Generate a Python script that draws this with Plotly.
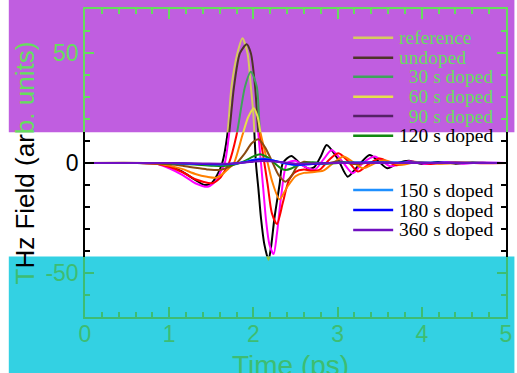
import plotly.graph_objects as go

# ---------------- data ----------------
t_ref = [0, 0.6, 0.85, 1.0, 1.15, 1.3, 1.42, 1.5, 1.57, 1.63, 1.69, 1.74, 1.81, 1.87, 1.93, 1.97, 2.0, 2.03, 2.06, 2.09, 2.13,
         2.18, 2.21, 2.25, 2.31, 2.35, 2.45, 2.55, 2.65, 2.72, 2.8, 2.87, 3.0, 3.12, 3.25, 3.38, 3.48, 3.59, 3.72, 3.85, 4.0,
         4.2, 4.4, 4.6, 4.8, 5.0]
v_ref = [0, 0, -0.3, -1.3, -3.8, -7.5, -10, -9.3, -5.5, 0, 12.7, 34.7, 49.9, 56.7, 49.9, 34.7, 22, 0, -12, -25, -37,
         -44, -38, -25, -10, 0, 3.2, 0, -2.5, -2, 3, 8.2, 2, -6.2, -1, 3.6, 1, -2.4, 0, 1, -0.5,
         0.5, -0.3, 0.2, 0, 0]

t_und = [0, 0.6, 0.85, 1.0, 1.16, 1.31, 1.46, 1.565, 1.61, 1.66, 1.71, 1.77, 1.84, 1.92, 1.97, 2.02, 2.06, 2.09, 2.12,
         2.15, 2.19, 2.24, 2.28, 2.33, 2.40, 2.5, 2.6, 2.73, 2.83, 2.93, 3.05, 3.18, 3.3, 3.44, 3.63, 3.85, 4.05, 4.3,
         4.5, 4.7, 5.0]
v_und = [0, 0, -0.3, -2.4, -5.5, -9.2, -10.8, -7.7, -4, 0, 12.7, 34.7, 49.9, 54, 49.9, 34.7, 12.7, 0, -13,
         -26, -37, -41.4, -32, -15, 0, 1, -1.5, -3, 1.5, 5.9, 1, -4.7, 0, 2.9, -1.5, 0.8, -0.5, 0.4,
         -0.3, 0.2, 0]

t_30 = [0, 0.6, 0.85, 1.0, 1.16, 1.31, 1.51, 1.6, 1.66, 1.71, 1.80, 1.90, 1.97, 2.04, 2.08, 2.13, 2.17, 2.22, 2.28,
        2.35, 2.42, 2.5, 2.6, 2.7, 2.79, 2.9, 3.01, 3.12, 3.24, 3.37, 3.5, 3.7, 3.9, 4.1, 4.4, 4.7, 5.0]
v_30 = [0, 0, -0.3, -1.7, -4.2, -7.4, -9.2, -7, -3.5, 0, 12.7, 34.7, 41.5, 34.7, 12.7, 0, -10, -22.9, -27.7,
        -18, -8, -4, -3, -3.5, -3, 1.5, 4.4, 1, -3.9, -0.5, 2, -1, 0.6, -0.4, 0.3, -0.1, 0]

t_60 = [0, 0.6, 0.85, 1.0, 1.16, 1.31, 1.45, 1.56, 1.65, 1.72, 1.77, 1.87, 1.94, 2.006, 2.05, 2.09, 2.17, 2.22, 2.31,
        2.4, 2.5, 2.6, 2.7, 2.83, 2.95, 3.07, 3.18, 3.3, 3.45, 3.55, 3.75, 3.95, 4.2, 4.5, 5.0]
v_60 = [0, 0, -0.2, -1.2, -2.8, -5, -6.3, -6.7, -4.5, -2, 0, 12.7, 21, 24.9, 21, 12.7, 0, -8, -16.5,
        -11, -6, -4.5, -4.2, -3.5, 0, 2.9, 0.5, -2.4, 0, 1.2, -0.8, 0.5, -0.3, 0.1, 0]

t_90 = [0, 0.7, 1.0, 1.16, 1.31, 1.45, 1.6, 1.7, 1.8, 1.9, 1.98, 2.06, 2.14, 2.23, 2.30, 2.38, 2.45, 2.52, 2.6,
        2.7, 2.85, 3.0, 3.2, 3.4, 3.7, 5.0]
v_90 = [0, 0, -0.6, -1.3, -2.2, -2.9, -3.2, -2, 0, 4.5, 9, 10.8, 7, 0, -5.5, -8.5, -6, -1.5, 0.6,
        0, -0.5, 0.8, -0.5, 0.3, 0, 0]

t_120 = [0, 0.8, 1.1, 1.3, 1.5, 1.65, 1.8, 1.9, 2.0, 2.08, 2.16, 2.25, 2.32, 2.38, 2.45, 2.55, 2.7, 2.9, 3.1, 3.4, 5.0]
v_120 = [0, 0, -0.3, -0.7, -1.2, -1.4, -0.5, 1, 3, 4, 2.8, 0, -2.2, -3.2, -2.5, -0.5, 0.3, -0.2, 0.2, 0, 0]

t_150 = [0, 1.0, 1.4, 1.7, 1.9, 2.0, 2.1, 2.2, 2.35, 2.5, 2.7, 3.0, 5.0]
v_150 = [0, 0, -0.5, -0.6, 0.5, 1.5, 2.0, 1.5, 0, -1.0, -0.5, 0.1, 0]

t_180 = [0, 1.0, 1.4, 1.7, 1.9, 2.0, 2.13, 2.2, 2.35, 2.5, 2.7, 3.0, 5.0]
v_180 = [0, 0, -0.4, -0.5, 0.3, 1.2, 1.7, 1.4, 0.2, -0.8, -0.4, 0.1, 0]

t_360 = [0, 1.0, 1.4, 1.7, 1.9, 2.0, 2.1, 2.2, 2.35, 2.5, 2.7, 3.0, 5.0]
v_360 = [0, 0, -0.2, -0.3, 0.2, 0.6, 0.9, 0.8, 0.3, -0.3, -0.2, 0, 0]

series_names = ["reference", "undoped", "\u00a0\u00a030 s doped", "\u00a0\u00a060 s doped", "\u00a0\u00a090 s doped",
                "120 s doped", "150 s doped", "180 s doped", "360 s doped"]
series_t = [t_ref, t_und, t_30, t_60, t_90, t_120, t_150, t_180, t_360]
series_v = [v_ref, v_und, v_30, v_60, v_90, v_120, v_150, v_180, v_360]

y_ticks_major = [-50, 0, 50]
x_ticks = [0, 1, 2, 3, 4, 5]

# ---------------- styles ----------------
Y_MIN, Y_MAX = -70, 70
TOP_CUT, BOT_CUT = 14, -42.5

col_mid = ["#000000", "#ff00ff", "#ff0000", "#ff8000", "#8b4a10", "#118811", "#1e90ff", "#0000ff", "#7010c0"]
col_top = ["#d6cb5e", "#4e3428", "#3fa35a", "#e6e04a", "#552266", "#1a6a1a", "#1e90ff", "#0000ff", "#7010c0"]
col_bot = ["#8cc43e", "#ff00ff", "#ff0000", "#ff8000", "#8b4a10", "#118811", "#1e90ff", "#0000ff", "#7010c0"]

PURPLE = "#c05ee0"
CYAN = "#33d1e3"
GREEN_P = "#66dd5e"   # green on purple band
GREEN_C = "#3dbd72"   # green on cyan band
SANS = "Liberation Sans, Arial, sans-serif"
SERIF = "Liberation Serif, Times New Roman, serif"

d_bot = (BOT_CUT - Y_MIN) / (Y_MAX - Y_MIN)
d_top = (TOP_CUT - Y_MIN) / (Y_MAX - Y_MIN)

fig = go.Figure()
for axis_id, cols in (("y", col_mid), ("y2", col_top), ("y3", col_bot)):
    for t, v, c in zip(series_t, series_v, cols):
        fig.add_trace(go.Scatter(x=t, y=v, mode="lines", xaxis="x", yaxis=axis_id,
                                 line=dict(color=c, width=2, shape="spline", smoothing=0.7),
                                 showlegend=False, hoverinfo="skip"))
# dummy trace for the top (mirror) x axis
fig.add_trace(go.Scatter(x=[None], y=[None], xaxis="x2", yaxis="y2", showlegend=False, hoverinfo="skip"))


def yax(domain, rng, major, minor, color):
    return dict(domain=domain, range=rng, anchor="x", tickvals=major,
                ticktext=[str(m).replace("\u2212", "-") for m in major],
                ticks="inside", ticklen=9, tickwidth=1.5, tickcolor=color,
                minor=dict(tickvals=minor, ticks="inside", ticklen=5, tickwidth=1.5, tickcolor=color),
                showline=True, linecolor=color, linewidth=1.5, mirror="ticks",
                showgrid=False, zeroline=False,
                tickfont=dict(family=SANS, size=23, color=color))


minor_y = list(range(-60, 61, 10))
fig.update_layout(
    width=517, height=373,
    margin=dict(l=85, r=5, t=9, b=56),
    paper_bgcolor="white", plot_bgcolor="rgba(0,0,0,0)",
    showlegend=False,
    xaxis=dict(domain=[0, 1], range=[0, 5], anchor="y3", tickvals=x_ticks,
               ticks="inside", ticklen=10, tickwidth=1.5, tickcolor=GREEN_C,
               minor=dict(dtick=0.2, tick0=0, ticks="inside", ticklen=5, tickwidth=1.5, tickcolor=GREEN_C),
               showline=True, linecolor=GREEN_C, linewidth=1.5, showgrid=False, zeroline=False,
               ticklabelstandoff=-4,
               tickfont=dict(family=SANS, size=23, color=GREEN_C)),
    xaxis2=dict(domain=[0, 1], range=[0, 5], anchor="y2", side="top", tickvals=x_ticks,
                showticklabels=False,
                ticks="inside", ticklen=10, tickwidth=1.5, tickcolor=GREEN_P,
                minor=dict(dtick=0.2, tick0=0, ticks="inside", ticklen=5, tickwidth=1.5, tickcolor=GREEN_P),
                showline=True, linecolor=GREEN_P, linewidth=1.5, showgrid=False, zeroline=False),
    yaxis=yax([d_bot, d_top], [BOT_CUT, TOP_CUT], [v for v in y_ticks_major if BOT_CUT < v < TOP_CUT],
              [v for v in minor_y if BOT_CUT < v < TOP_CUT and v not in y_ticks_major], "#000000"),
    yaxis2=yax([d_top, 1], [TOP_CUT, Y_MAX], [v for v in y_ticks_major if TOP_CUT < v < Y_MAX],
               [v for v in minor_y if TOP_CUT < v < Y_MAX and v not in y_ticks_major], GREEN_P),
    yaxis3=yax([0, d_bot], [Y_MIN, BOT_CUT], [v for v in y_ticks_major if Y_MIN < v < BOT_CUT],
               [v for v in minor_y if Y_MIN < v < BOT_CUT and v not in y_ticks_major], GREEN_C),
)

# colored bands (extend into the margins)
fig.add_shape(type="rect", xref="paper", yref="paper", x0=-0.181, x1=1.02, y0=d_top, y1=1.05,
              fillcolor=PURPLE, line=dict(width=0), layer="below")
fig.add_shape(type="rect", xref="paper", yref="paper", x0=-0.181, x1=1.02, y0=-0.2, y1=d_bot,
              fillcolor=CYAN, line=dict(width=0), layer="below")

# axis titles
fig.add_annotation(xref="paper", yref="paper", x=-0.1415, y=0.5, textangle=-90, showarrow=False,
                   xanchor="center", yanchor="middle",
                   text=f'<span style="color:{GREEN_C}">T</span>Hz Field (ar<span style="color:{GREEN_P}">b. units)</span>',
                   font=dict(family=SANS, size=26, color="#000000"))
fig.add_annotation(xref="paper", yref="paper", x=0.488, y=-0.158, showarrow=False,
                   xanchor="center", yanchor="middle", text="Time (ps)",
                   font=dict(family=SANS, size=28, color=GREEN_C))

# legend (drawn manually to match row spacing)
legend_rows_px = [37.7, 57.7, 76.7, 96.7, 116.0, 135.7, 190.0, 210.0, 230.0]
legend_text_col = [GREEN_P] * 5 + ["#000000"] * 4
legend_line_col = [col_top[0], col_top[1], col_top[2], col_top[3], col_top[4],
                   col_mid[5], col_mid[6], col_mid[7], col_mid[8]]
plot_top, plot_h = 9, 373 - 9 - 56
for name, ypx, tc, lc in zip(series_names, legend_rows_px, legend_text_col, legend_line_col):
    yp = (plot_top + plot_h - ypx) / plot_h
    fig.add_shape(type="line", xref="paper", yref="paper", x0=0.637, x1=0.732, y0=yp, y1=yp,
                  line=dict(color=lc, width=2.5), layer="above")
    fig.add_annotation(xref="paper", yref="paper", x=0.742, y=yp, showarrow=False,
                       xanchor="left", yanchor="middle", text=name,
                       font=dict(family=SERIF, size=19.5, color=tc))

fig.write_html("out.html")
